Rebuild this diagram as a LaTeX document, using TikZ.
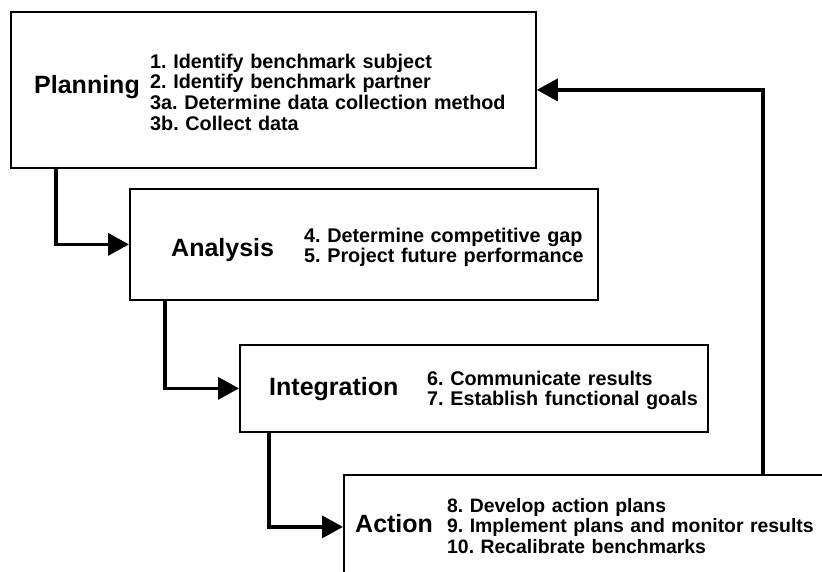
\documentclass[tikz,border=0pt]{standalone}
\usepackage{fontspec}
\setmainfont{Liberation Sans}
\usetikzlibrary{arrows.meta}
\frenchspacing
\begin{document}
\begin{tikzpicture}[x=1pt,y=-1pt,
  stagebox/.style={draw=black, line width=1.8pt, fill=white, rectangle, inner sep=0pt, anchor=north west},
  title/.style={font=\bfseries\fontsize{25}{28}\selectfont, anchor=base west, inner sep=0pt},
  items/.style={font=\bfseries\fontsize{19.8}{20.8}\selectfont, align=left, text width=400pt, anchor=base west, inner sep=0pt},
  conn/.style={line width=3.6pt, -{Triangle[length=21pt,width=22pt]}},
]
\useasboundingbox (0,0) rectangle (822,571);
\clip (0,0) rectangle (822,571);
\fill[white] (0,0) rectangle (822,571);

% the four stage boxes
\node[stagebox, minimum width=525pt, minimum height=156pt] (plan) at (10,11) {};
\node[stagebox, minimum width=468pt, minimum height=111pt] (ana) at (129,188) {};
\node[stagebox, minimum width=468pt, minimum height=87pt] (int) at (239,344) {};
\node[stagebox, minimum width=500pt, minimum height=104pt] (act) at (343,474) {};

% stage titles
\node[title] (planT) at (34,93) {Planning};
\node[title] (anaT) at (171,256) {Analysis};
\node[title] (intT) at (269,395) {Integration};
\node[title] (actT) at (355,532) {Action};

% step lists
\node[items] (planI) at (150,68) {1. Identify benchmark subject\\2. Identify benchmark partner\\3a. Determine data collection method\\3b. Collect data};
\node[items] (anaI) at (304,242) {4. Determine competitive gap\\5. Project future performance};
\node[items] (intI) at (427,385) {6. Communicate results\\7. Establish functional goals};
\node[items, font=\bfseries\fontsize{19.4}{20.8}\selectfont] (actI) at (447,512) {8. Develop action plans\\9. Implement plans and monitor results\\10. Recalibrate benchmarks};

% flow between stages
\draw[conn] ([xshift=46pt]plan.south west) |- (ana.west);
\draw[conn] ([xshift=36pt]ana.south west) |- (int.west);
\draw[conn] ([xshift=30pt]int.south west) |- (act.west);
% feedback loop back to planning
\draw[conn] ([xshift=420pt]act.north west) |- (plan.east);
\end{tikzpicture}
\end{document}
